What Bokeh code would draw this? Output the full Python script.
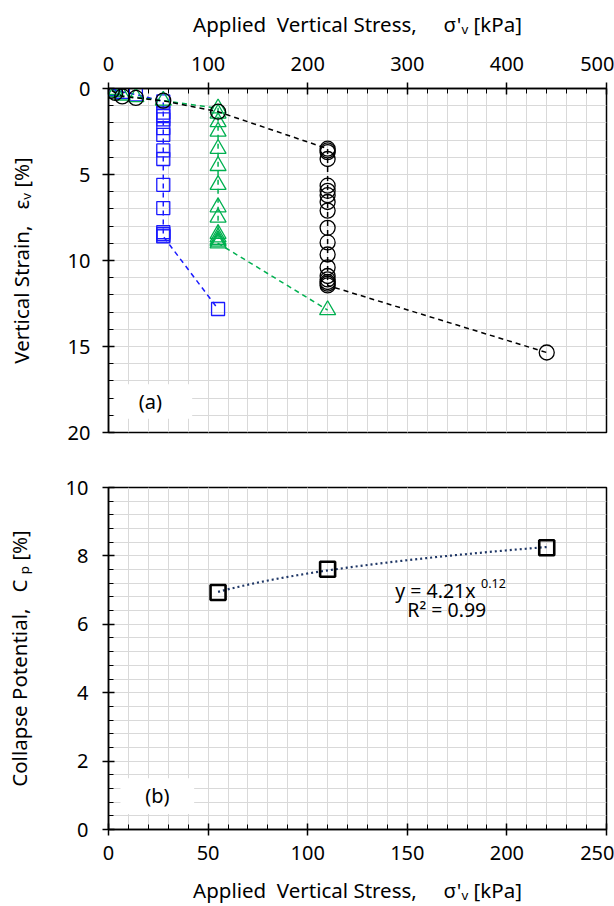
import numpy as np
from bokeh.plotting import figure
from bokeh.layouts import column
from bokeh.models import Range1d, SingleIntervalTicker, BoxAnnotation, Label
from bokeh.embed import file_html
from bokeh.resources import INLINE

# ---------------- data ----------------
# panel (a): blue squares
blue_x = [3.4, 6.9, 13.8, 27.5, 55, 55, 55, 55, 55, 55, 55, 55, 55, 55, 55, 55, 55, 55, 110]
blue_y = [0.03, 0.1, 0.2, 0.35, 0.75, 1.4, 1.6, 1.8, 2.3, 2.7, 3.6, 4.1, 5.6, 6.95,
          8.35, 8.45, 8.55, 8.6, 12.82]
# panel (a): green triangles
green_x = [3.4, 6.9, 13.8, 27.5, 55, 110, 110, 110, 110, 110, 110, 110, 110, 110,
           110, 110, 110, 110, 110, 220]
green_y = [0.08, 0.2, 0.4, 0.5, 0.7, 1.15, 1.45, 1.95, 2.5, 3.5, 4.5, 5.6, 6.9, 7.5,
           8.45, 8.65, 8.8, 8.9, 9.0, 12.88]
# panel (a): black circles
black_x = [3.4, 6.9, 13.8, 27.5, 55, 110, 220, 220, 220, 220, 220, 220, 220, 220,
           220, 220, 220, 220, 220, 220, 220, 220, 220, 220, 440]
black_y = [0.13, 0.26, 0.46, 0.55, 0.71, 1.35, 3.5, 3.6, 3.7, 4.1, 5.65, 5.95, 6.2,
           6.6, 7.1, 8.1, 8.95, 9.65, 10.4, 10.9, 11.1, 11.25, 11.35, 11.45, 15.35]
# panel (b): collapse potential
cp_x = [55, 110, 220]
cp_y = [6.93, 7.61, 8.24]

FONT = "Noto Sans"
GRID = "#d9d9d9"


def style(p, xint, yint):
    for ax in p.xaxis + p.yaxis:
        ax.axis_line_color = "black"
        ax.axis_line_width = 1.5
        ax.major_tick_line_color = "black"
        ax.major_tick_line_width = 1.5
        ax.minor_tick_line_color = "black"
        ax.minor_tick_line_width = 1
        ax.major_tick_out = 6
        ax.major_tick_in = 6
        ax.minor_tick_out = 0
        ax.minor_tick_in = 5
        ax.major_label_text_font = FONT
        ax.major_label_text_font_size = "20px"
        ax.major_label_text_color = "black"
        ax.axis_label_text_font = FONT
        ax.axis_label_text_font_size = "20.5px"
        ax.axis_label_text_font_style = "normal"
        ax.axis_label_text_color = "black"
    p.xaxis.ticker = SingleIntervalTicker(interval=xint, num_minor_ticks=5)
    p.yaxis.ticker = SingleIntervalTicker(interval=yint, num_minor_ticks=5)
    for g in (p.xgrid, p.ygrid):
        g.grid_line_color = GRID
        g.grid_line_width = 1
        g.minor_grid_line_color = GRID
        g.minor_grid_line_width = 1
    p.outline_line_color = "black"
    p.outline_line_width = 1.5
    p.outline_line_alpha = 1
    p.background_fill_color = "white"
    p.border_fill_color = "white"


# ---------------- panel (a) ----------------
p1 = figure(width=614, height=450, output_backend="svg", toolbar_location=None,
            x_range=Range1d(0, 500), y_range=Range1d(20, 0),
            x_axis_location="above",
            min_border_left=108, min_border_right=6, min_border_top=88,
            min_border_bottom=18)
style(p1, 100, 5)
p1.xaxis.axis_label = "Applied\u00a0 Vertical Stress,\u00a0\u00a0\u00a0\u00a0\u00a0σ'ᵥ [kPa]"
p1.yaxis.axis_label = "Vertical Strain,\u00a0\u00a0\u00a0εᵥ [%]"
p1.xaxis.major_label_standoff = 12
p1.xaxis.axis_label_standoff = 16
p1.yaxis.major_label_standoff = 12
p1.yaxis.axis_label_standoff = 30

BLUE = "#1a1aff"
GREEN = "#00b050"
p1.line(blue_x, blue_y, line_color=BLUE, line_dash="5 4", line_width=1.5)
p1.scatter(blue_x, blue_y, marker="square", size=13, fill_color=None,
           line_color=BLUE, line_width=1.3)
p1.line(green_x, green_y, line_color=GREEN, line_dash="5 4", line_width=1.5)
p1.scatter(green_x, green_y, marker="triangle", size=16, fill_color=None,
           line_color=GREEN, line_width=1.3)
p1.line(black_x, black_y, line_color="black", line_dash="5 4", line_width=1.5)
p1.scatter(black_x, black_y, marker="circle", size=15, fill_color=None,
           line_color="black", line_width=1.3)

p1.add_layout(BoxAnnotation(left=6, right=84, top=17.2, bottom=19.2,
                            fill_color="white", fill_alpha=1, line_color=None))
p1.add_layout(Label(x=42, y=18.2, text="(a)", text_font=FONT,
                    text_font_size="20px", text_align="center",
                    text_baseline="middle", text_color="black"))

# ---------------- panel (b) ----------------
p2 = figure(width=614, height=456, output_backend="svg", toolbar_location=None,
            x_range=Range1d(0, 250), y_range=Range1d(0, 10),
            min_border_left=106, min_border_right=8, min_border_top=37,
            min_border_bottom=77)
style(p2, 50, 2)
p2.xaxis.axis_label = "Applied\u00a0 Vertical Stress,\u00a0\u00a0\u00a0\u00a0\u00a0σ'ᵥ [kPa]"
p2.yaxis.axis_label = "Collapse Potential,\u00a0\u00a0\u00a0C\u00a0ₚ [%]"
p2.xaxis.major_label_standoff = 10
p2.xaxis.axis_label_standoff = 13
p2.yaxis.major_label_standoff = 14
p2.yaxis.axis_label_standoff = 30

# power-law trend line fitted to the three points (as a spreadsheet trendline)
b, lna = np.polyfit(np.log(cp_x), np.log(cp_y), 1)
tx = np.linspace(min(cp_x), max(cp_x), 80)
ty = np.exp(lna) * tx ** b
p2.line(tx, ty, line_color="#1f3766", line_dash="2 3", line_width=2.2)
p2.scatter(cp_x, cp_y, marker="square", size=15, fill_color=None,
           line_color="black", line_width=2.6)

p2.add_layout(Label(x=144, y=7.0, text="y = 4.21x", text_font=FONT,
                    text_font_size="19.5px", text_baseline="middle",
                    text_color="black"))
p2.add_layout(Label(x=187, y=7.2, text="0.12", text_font=FONT,
                    text_font_size="12.5px", text_baseline="middle",
                    text_color="black"))
p2.add_layout(Label(x=150, y=6.42, text="R² = 0.99", text_font=FONT,
                    text_font_size="19.5px", text_baseline="middle",
                    text_color="black"))

p2.add_layout(BoxAnnotation(left=6, right=43, top=1.5, bottom=0.45,
                            fill_color="white", fill_alpha=1, line_color=None))
p2.add_layout(Label(x=24.5, y=0.98, text="(b)", text_font=FONT,
                    text_font_size="20px", text_align="center",
                    text_baseline="middle", text_color="black"))

layout = column(p1, p2, spacing=0)
open("out.html", "w").write(file_html(layout, INLINE))
